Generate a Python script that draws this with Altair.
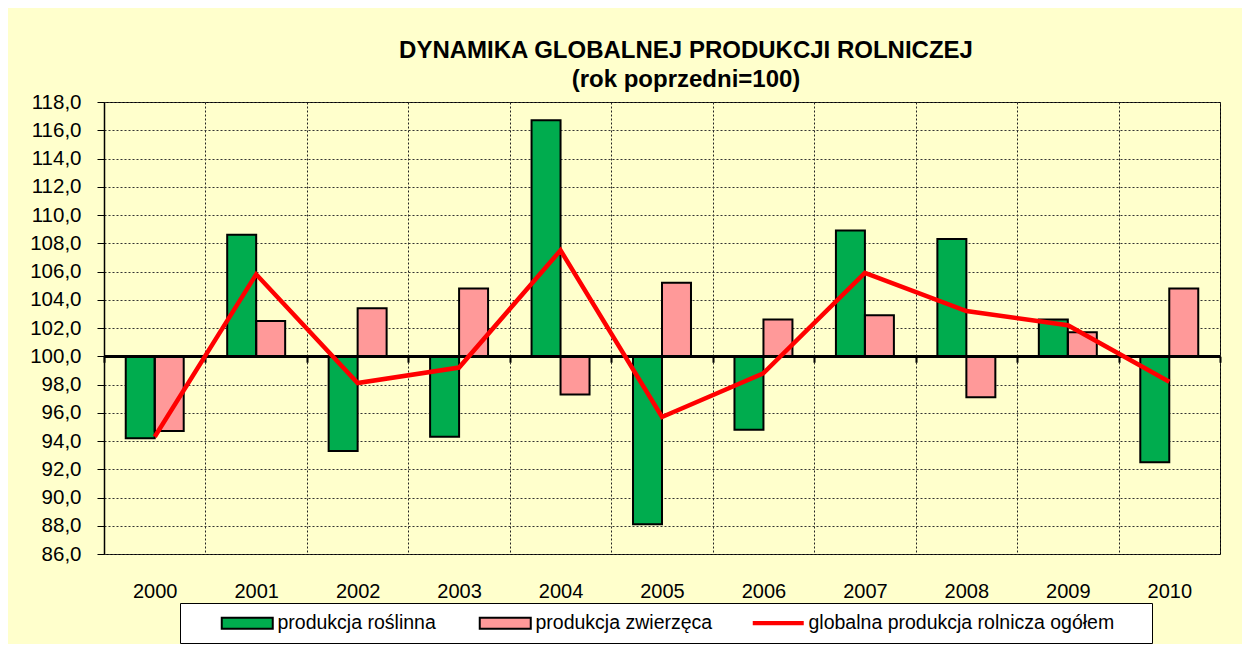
import altair as alt
import pandas as pd

YEARS = ['2000', '2001', '2002', '2003', '2004', '2005', '2006', '2007', '2008', '2009', '2010']
ROSLINNA = [94.2, 108.6, 93.3, 94.3, 116.7, 88.1, 94.8, 108.9, 108.3, 102.6, 92.5]
ZWIERZECA = [94.7, 102.5, 103.4, 104.8, 97.3, 105.2, 102.6, 102.9, 97.1, 101.7, 104.8]
OGOLEM = [94.3, 105.8, 98.1, 99.2, 107.5, 95.7, 98.8, 105.9, 103.2, 102.2, 98.2]
SERIES = ['produkcja roślinna', 'produkcja zwierzęca', 'globalna produkcja rolnicza ogółem']
COLORS = ['#00AC4E', '#FF9999', '#FF0000']
Y_TICKS = [86, 88, 90, 92, 94, 96, 98, 100, 102, 104, 106, 108, 110, 112, 114, 116, 118]
BASE = 100
TITLE = ['DYNAMIKA GLOBALNEJ PRODUKCJI ROLNICZEJ', '(rok poprzedni=100)']

bars_df = pd.DataFrame({
    'year': YEARS + YEARS,
    'series': [SERIES[0]] * len(YEARS) + [SERIES[1]] * len(YEARS),
    'value': ROSLINNA + ZWIERZECA,
})
line_df = pd.DataFrame({'year': YEARS, 'value': OGOLEM})

W, H = 1116, 452
YMIN, YMAX = Y_TICKS[0], Y_TICKS[-1]
FONT = 'Liberation Sans'

yscale = alt.Scale(domain=[YMIN, YMAX], nice=False, zero=False)
yaxis = alt.Axis(values=Y_TICKS, labelExpr="replace(format(datum.value, '.1f'), '.', ',')",
                 title=None, grid=True, gridColor='#333333', gridDash=[2, 2], gridWidth=1,
                 domainColor='black', domainWidth=1.5, tickColor='black', tickSize=7,
                 tickWidth=1, labelFontSize=20.5, labelPadding=16, labelColor='black',
                 labelFont=FONT)
xscale = alt.Scale(domain=YEARS, paddingInner=0, paddingOuter=0)
xaxis = alt.Axis(title=None, labelAngle=0, ticks=False, domain=False, grid=True,
                 gridColor='#222222', gridDash=[2, 2], gridWidth=1, tickBand='extent',
                 labelFontSize=20, labelPadding=27, labelColor='black', labelFont=FONT)
off_scale = alt.Scale(domain=SERIES[:2], paddingInner=0, paddingOuter=0.75)
cscale = alt.Scale(domain=SERIES, range=COLORS)

PAD_RIGHT = '\u00a0' * 5 + '\u200b'
COND = "datum.value == '" + SERIES[2] + "'"
legend = alt.Legend(
    orient='none', legendX=76, legendY=501, direction='horizontal',
    title=' ', titleOrient='left', titlePadding=32,
    fillColor='white', strokeColor='black', padding=10, columnPadding=39,
    symbolSize=400, symbolOffset=15.5, labelOffset=20.5,
    symbolType=alt.ExprRef(expr=COND + " ? 'M-2.55,-0.22H2.55V0.22H-2.55Z' : 'M-2.55,-0.55H2.55V0.55H-2.55Z'"),
    symbolStrokeColor=alt.ExprRef(expr=COND + " ? 'transparent' : 'black'"),
    symbolStrokeWidth=alt.ExprRef(expr=COND + " ? 0 : 2"),
    labelFontSize=19.5, labelFont=FONT, labelColor='black', labelLimit=0,
    labelExpr=COND + " ? datum.label + '" + PAD_RIGHT + "' : datum.label",
)

y_enc = alt.Y('value:Q', scale=yscale, axis=yaxis, title=None)

fill_layer = alt.Chart(bars_df).mark_bar().encode(
    x=alt.X('year:N', scale=xscale, axis=xaxis, sort=YEARS),
    xOffset=alt.XOffset('series:N', scale=off_scale, sort=SERIES[:2]),
    y=y_enc,
    y2=alt.Y2(datum=BASE),
    color=alt.Color('series:N', scale=cscale, legend=legend),
)
outline_layer = alt.Chart(bars_df).mark_bar(fillOpacity=0, stroke='black', strokeWidth=2).encode(
    x=alt.X('year:N', scale=xscale, axis=None, sort=YEARS),
    xOffset=alt.XOffset('series:N', scale=off_scale, sort=SERIES[:2]),
    y=y_enc,
    y2=alt.Y2(datum=BASE),
)
rule_layer = alt.Chart(line_df).mark_rule(color='black', strokeWidth=2.5).encode(
    y=alt.Y(datum=BASE, scale=yscale, axis=yaxis, title=None),
)
line_layer = alt.Chart(line_df).mark_line(color=COLORS[2], strokeWidth=4.5).encode(
    x=alt.X('year:N', scale=xscale, axis=None, sort=YEARS),
    y=y_enc,
)
OFF = H * (BASE - YMIN) / (YMAX - YMIN)
tick_layer = alt.Chart(line_df).mark_point(opacity=0).encode(
    x=alt.X('year:N', scale=xscale, sort=YEARS,
            axis=alt.Axis(orient='bottom', offset=-OFF, domain=False, ticks=True, tickSize=6,
                          tickColor='black', tickWidth=2, tickBand='extent', labels=False,
                          grid=False, title=None)),
    y=y_enc,
)

chart = alt.layer(fill_layer, outline_layer, rule_layer, line_layer, tick_layer).resolve_axis(
    x='independent'
).properties(
    width=W, height=H,
    title=alt.TitleParams(text=TITLE, font=FONT, fontSize=24, fontWeight='bold', color='black',
                          anchor='middle', dx=24, offset=0, lineHeight=29, baseline='top',
                          frame='group'),
    background='#FFFFCC',
    padding={'left': 96, 'top': 94, 'right': 22, 'bottom': 90},
    autosize=alt.AutoSizeParams(type='none'),
).configure_view(fill='#FFFFCC', stroke='black', strokeWidth=1)

chart.save('out.html', embed_options={'renderer': 'svg', 'actions': False})
